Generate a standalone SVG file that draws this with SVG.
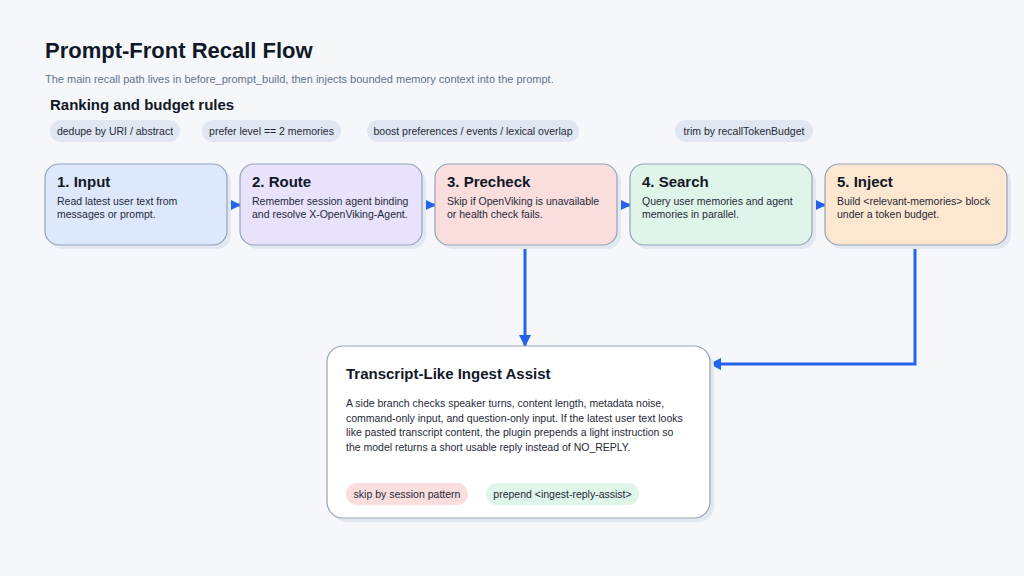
<svg xmlns="http://www.w3.org/2000/svg" width="1024" height="576" viewBox="0 0 1024 576">
<style>
text{font-family:"Liberation Sans",Arial,sans-serif}
.t{font-size:15px;font-weight:bold;fill:#111827}
.b{font-size:10.5px;fill:#1f2937}
.pill{font-size:10.5px;fill:#1f2937}
.box{stroke:#94a3b8;stroke-width:1.2}
.sh{fill:#e2e8f0}
.c{stroke:#2563eb;stroke-width:3;fill:none}
</style>
<defs><marker id="ah" markerWidth="12" markerHeight="12" refX="11" refY="6" orient="auto" markerUnits="userSpaceOnUse"><path d="M0,0 L12,6 L0,12 z" fill="#2563eb"/></marker></defs>
<rect width="1024" height="576" fill="#f5f7fb"/>
<text x="45" y="58" font-size="22" font-weight="bold" fill="#111827">Prompt-Front Recall Flow</text>
<text x="45" y="83" font-size="11" fill="#64748b">The main recall path lives in before_prompt_build, then injects bounded memory context into the prompt.</text>
<text x="50" y="110" font-size="15" font-weight="bold" fill="#111827">Ranking and budget rules</text>
<g id="pills">
<rect x="50" y="120" width="130" height="22" rx="11" fill="#e0e7f3"/><text class="pill" x="115" y="135" text-anchor="middle">dedupe by URI / abstract</text>
<rect x="202" y="120" width="139" height="22" rx="11" fill="#e0e7f3"/><text class="pill" x="271.5" y="135" text-anchor="middle">prefer level == 2 memories</text>
<rect x="367" y="120" width="212" height="22" rx="11" fill="#e0e7f3"/><text class="pill" x="473" y="135" text-anchor="middle">boost preferences / events / lexical overlap</text>
<rect x="675" y="120" width="138" height="22" rx="11" fill="#e0e7f3"/><text class="pill" x="744" y="135" text-anchor="middle">trim by recallTokenBudget</text>
</g>
<g id="connectors">
<path class="c" d="M227,205 H240" marker-end="url(#ah)"/>
<path class="c" d="M422,205 H435" marker-end="url(#ah)"/>
<path class="c" d="M617,205 H630" marker-end="url(#ah)"/>
<path class="c" d="M812,205 H825" marker-end="url(#ah)"/>
<path class="c" d="M525,245 V346" marker-end="url(#ah)"/>
<path class="c" d="M915,245 V364 H710" marker-end="url(#ah)"/>
</g>
<g id="input"><rect class="sh" x="49" y="168" width="182" height="81" rx="14"/><rect class="box" x="45" y="164" width="182" height="81" rx="14" fill="#dde8fd"/><text class="t" x="57" y="187">1. Input</text><text class="b" x="57" y="205">Read latest user text from</text><text class="b" x="57" y="218">messages or prompt.</text></g>
<g id="route"><rect class="sh" x="244" y="168" width="182" height="81" rx="14"/><rect class="box" x="240" y="164" width="182" height="81" rx="14" fill="#e8e2fc"/><text class="t" x="252" y="187">2. Route</text><text class="b" x="252" y="205">Remember session agent binding</text><text class="b" x="252" y="218">and resolve X-OpenViking-Agent.</text></g>
<g id="precheck"><rect class="sh" x="439" y="168" width="182" height="81" rx="14"/><rect class="box" x="435" y="164" width="182" height="81" rx="14" fill="#f9dedd"/><text class="t" x="447" y="187">3. Precheck</text><text class="b" x="447" y="205">Skip if OpenViking is unavailable</text><text class="b" x="447" y="218">or health check fails.</text></g>
<g id="search"><rect class="sh" x="634" y="168" width="182" height="81" rx="14"/><rect class="box" x="630" y="164" width="182" height="81" rx="14" fill="#dff5e9"/><text class="t" x="642" y="187">4. Search</text><text class="b" x="642" y="205">Query user memories and agent</text><text class="b" x="642" y="218">memories in parallel.</text></g>
<g id="inject"><rect class="sh" x="829" y="168" width="182" height="81" rx="14"/><rect class="box" x="825" y="164" width="182" height="81" rx="14" fill="#fde7d1"/><text class="t" x="837" y="187">5. Inject</text><text class="b" x="837" y="205">Build &lt;relevant-memories&gt; block</text><text class="b" x="837" y="218">under a token budget.</text></g>
<g id="assist"><rect class="sh" x="331" y="350" width="383" height="172" rx="16"/><rect class="box" x="327" y="346" width="383" height="172" rx="16" fill="#ffffff"/>
<text x="346" y="379" font-size="15" font-weight="bold" fill="#111827">Transcript-Like Ingest Assist</text>
<text class="b" x="346" y="407">A side branch checks speaker turns, content length, metadata noise,</text>
<text class="b" x="346" y="422">command-only input, and question-only input. If the latest user text looks</text>
<text class="b" x="346" y="436">like pasted transcript content, the plugin prepends a light instruction so</text>
<text class="b" x="346" y="451">the model returns a short usable reply instead of NO_REPLY.</text>
<rect x="346" y="483" width="122" height="22" rx="11" fill="#f9dedd"/><text class="pill" x="407" y="498" text-anchor="middle">skip by session pattern</text>
<rect x="486" y="483" width="153" height="22" rx="11" fill="#dff5e9"/><text class="pill" x="562.5" y="498" text-anchor="middle">prepend &lt;ingest-reply-assist&gt;</text>
</g>
</svg>
